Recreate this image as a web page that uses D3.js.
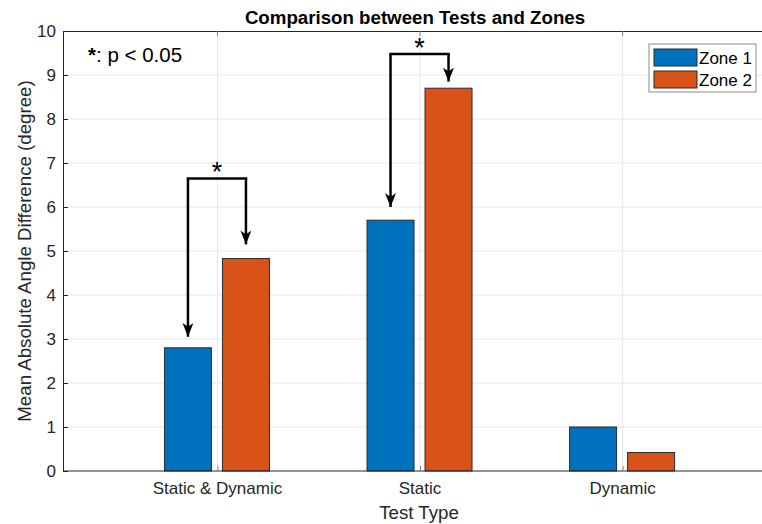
<!DOCTYPE html>
<html>
<head>
<meta charset="utf-8">
<script src="https://cdn.jsdelivr.net/npm/d3@7"></script>
<style>
  body { margin: 0; background: #fff; }
  svg { display: block; font-family: "Liberation Sans", Arial, sans-serif; }
</style>
</head>
<body>
<svg id="chart" width="762" height="524"></svg>
<script>
// data
const categories = ["Static & Dynamic", "Static", "Dynamic"];
const zones = ["Zone 1", "Zone 2"];
const zone1 = [2.8, 5.7, 1.0];
const zone2 = [4.83, 8.7, 0.42];
const zoneColors = ["#0072BD", "#D95319"];
const yTicks = [0, 1, 2, 3, 4, 5, 6, 7, 8, 9, 10];

// significance brackets: category index, bracket height, arrow tip values (zone1, zone2)
const sigCategory = [0, 1];
const sigHeight = [6.65, 9.48];
const sigTip1 = [3.05, 6.0];
const sigTip2 = [5.15, 8.85];

const svg = d3.select("#chart");
const margin = { left: 63, top: 31, right: 772, bottom: 471 };
const ink = "#262626";

// x runs from 0.24 to 3.74 in category units, like matlab's categorical axis
const x = d3.scaleLinear().domain([0.24, 3.74]).range([margin.left, margin.right]);
const y = d3.scaleLinear().domain([0, 10]).range([margin.bottom, margin.top]);

const barW = 47;
const offset = 29;

// grid
const grid = svg.append("g");
grid.selectAll("line.hg")
  .data(yTicks.slice(1, -1))
  .join("line")
  .attr("x1", margin.left).attr("x2", 762)
  .attr("y1", d => y(d)).attr("y2", d => y(d))
  .attr("stroke", "#e6e6e6").attr("stroke-width", 1);
grid.selectAll("line.vg")
  .data(categories)
  .join("line")
  .attr("x1", (d, i) => x(i + 1) + 0.5).attr("x2", (d, i) => x(i + 1) + 0.5)
  .attr("y1", margin.top).attr("y2", margin.bottom)
  .attr("stroke", "#e6e6e6").attr("stroke-width", 1);

// bars
const series = [zone1, zone2];
series.forEach((vals, s) => {
  svg.append("g").selectAll("rect")
    .data(vals)
    .join("rect")
    .attr("x", (d, i) => x(i + 1) + (s === 0 ? -offset : offset) - barW / 2)
    .attr("width", barW)
    .attr("y", d => y(d))
    .attr("height", d => y(0) - y(d))
    .attr("fill", zoneColors[s])
    .attr("stroke", "#2b2b2b")
    .attr("stroke-width", 1);
});

// axes
const yAxis = d3.axisLeft(y).tickValues(yTicks).tickSize(-5).tickPadding(7).tickFormat(d3.format("d"));
const gy = svg.append("g").attr("transform", `translate(${margin.left},0)`).call(yAxis);
gy.select(".domain").attr("stroke", ink);
gy.selectAll(".tick line").attr("stroke", ink);
gy.selectAll("text").attr("fill", ink).attr("font-size", 17).attr("font-family", "Liberation Sans, Arial, sans-serif");

const xAxis = d3.axisBottom(x).tickValues([1, 2, 3]).tickSize(-5).tickPadding(11)
  .tickFormat(d => categories[d - 1]);
const gx = svg.append("g").attr("transform", `translate(0,${margin.bottom})`).call(xAxis);
gx.select(".domain").attr("stroke", ink).attr("d", `M${margin.left},0H${margin.right}`);
gx.selectAll(".tick line").attr("stroke", "#888").attr("transform", "translate(0.5,0)");
gx.selectAll("text").attr("fill", ink).attr("font-size", 17).attr("font-family", "Liberation Sans, Arial, sans-serif");

// top box line + top ticks
svg.append("line")
  .attr("x1", margin.left).attr("x2", 762)
  .attr("y1", margin.top + 0.5).attr("y2", margin.top + 0.5)
  .attr("stroke", ink);
svg.append("g").selectAll("line")
  .data(categories)
  .join("line")
  .attr("x1", (d, i) => x(i + 1) + 0.5).attr("x2", (d, i) => x(i + 1) + 0.5)
  .attr("y1", margin.top).attr("y2", margin.top + 5)
  .attr("stroke", "#888");

// labels
svg.append("text")
  .attr("x", 415).attr("y", 24)
  .attr("text-anchor", "middle")
  .attr("font-size", 18.7).attr("font-weight", "bold")
  .attr("fill", "#000")
  .text("Comparison between Tests and Zones");
svg.append("text")
  .attr("x", 419).attr("y", 519)
  .attr("text-anchor", "middle")
  .attr("font-size", 18.7).attr("fill", ink)
  .text("Test Type");
svg.append("text")
  .attr("transform", `translate(31,${(margin.top + margin.bottom) / 2}) rotate(-90)`)
  .attr("text-anchor", "middle")
  .attr("font-size", 18.7).attr("fill", ink)
  .text("Mean Absolute Angle Difference (degree)");

// significance note
const note = svg.append("text")
  .attr("x", 88).attr("y", 62)
  .attr("font-size", 20.5).attr("fill", "#000");
note.append("tspan").attr("font-weight", "bold").text("*");
note.append("tspan").text(": p < 0.05");

// arrows
const defs = svg.append("defs");
defs.append("marker")
  .attr("id", "head")
  .attr("viewBox", "0 0 14 11")
  .attr("refX", 14).attr("refY", 5.5)
  .attr("markerUnits", "userSpaceOnUse")
  .attr("markerWidth", 14).attr("markerHeight", 11)
  .attr("orient", "auto")
  .append("path")
  .attr("d", "M0,0 L14,5.5 L0,11 L4,5.5 Z")
  .attr("fill", "#000");

sigCategory.forEach((c, k) => {
  const x1 = x(c + 1) - offset;
  const x2 = x(c + 1) + offset;
  const yh = y(sigHeight[k]);
  const g = svg.append("g").attr("fill", "none").attr("stroke", "#000").attr("stroke-width", 2.5);
  g.append("line").attr("x1", x1 - 1.25).attr("x2", x2 + 1.25).attr("y1", yh).attr("y2", yh);
  g.append("line").attr("x1", x1).attr("x2", x1).attr("y1", yh).attr("y2", y(sigTip1[k]))
    .attr("marker-end", "url(#head)");
  g.append("line").attr("x1", x2).attr("x2", x2).attr("y1", yh).attr("y2", y(sigTip2[k]))
    .attr("marker-end", "url(#head)");
  svg.append("text")
    .attr("x", x(c + 1)).attr("y", yh + 3)
    .attr("text-anchor", "middle")
    .attr("font-size", 27).attr("fill", "#000")
    .text("*");
});

// legend
const lg = svg.append("g").attr("transform", "translate(649,44)");
lg.append("rect")
  .attr("width", 107).attr("height", 48)
  .attr("fill", "#fff").attr("stroke", "#8c8c8c").attr("stroke-width", 1);
zones.forEach((z, i) => {
  lg.append("rect")
    .attr("x", 5).attr("y", 5 + i * 22)
    .attr("width", 43).attr("height", 17)
    .attr("fill", zoneColors[i]).attr("stroke", "#2b2b2b");
  lg.append("text")
    .attr("x", 50).attr("y", 19.5 + i * 22)
    .attr("font-size", 17).attr("fill", "#000")
    .text(z);
});
</script>
</body>
</html>
